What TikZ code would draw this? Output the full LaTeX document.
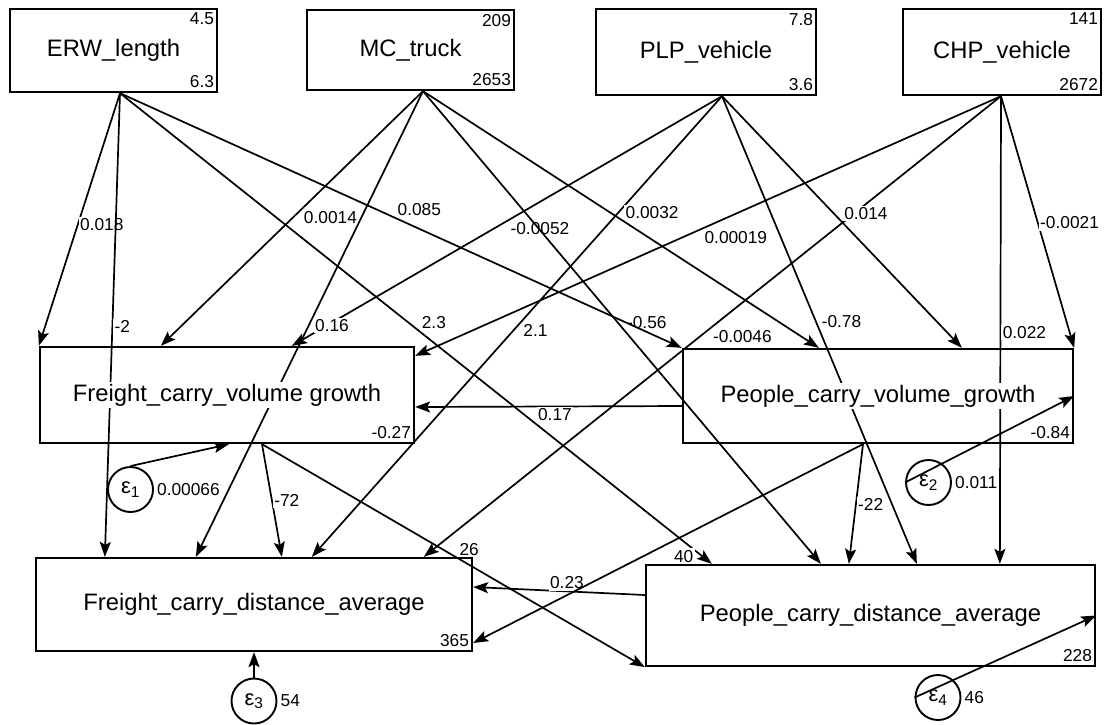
\documentclass[tikz,border=0pt]{standalone}
\usepackage{fontspec}
\setmainfont{Liberation Sans}
\usetikzlibrary{arrows.meta,positioning}

\begin{document}
\begin{tikzpicture}[x=1pt,y=-1pt]
\tikzstyle{box}=[rectangle, draw, line width=2.3pt, inner sep=0pt]
\tikzstyle{txt}=[fill=white, inner sep=2pt, font=\fontsize{23.8}{28}\selectfont]
\tikzstyle{num}=[inner xsep=4pt, inner ysep=5pt, font=\fontsize{17.3}{20}\selectfont]
\tikzstyle{lbl}=[fill=white, inner sep=1.5pt, font=\fontsize{17.3}{20}\selectfont]
\tikzstyle{err}=[circle, draw, line width=1.9pt, minimum size=45pt, inner sep=0pt, font=\fontsize{22}{26}\selectfont]
\tikzstyle{pth}=[line width=1.7pt, -{Stealth[length=15pt, width=11pt, inset=3pt]}]

\useasboundingbox (0,0) rectangle (1105,724);

% exogenous boxes
\node[box, minimum width=207pt, minimum height=83pt] (ERW) at (113.5,50.5) {};
\node[box, minimum width=207pt, minimum height=80pt] (MC) at (410.5,50) {};
\node[box, minimum width=220pt, minimum height=86pt] (PLP) at (706,52) {};
\node[box, minimum width=198pt, minimum height=86pt] (CHP) at (1002,52) {};
% endogenous boxes
\node[box, minimum width=374pt, minimum height=96pt] (FV) at (227,395) {};
\node[box, minimum width=390pt, minimum height=94pt] (PV) at (878,396) {};
\node[box, minimum width=436pt, minimum height=93pt] (FD) at (254,604.5) {};
\node[box, minimum width=449pt, minimum height=101pt] (PD) at (870.5,615.5) {};

% means and variances
\node[num, anchor=north east] (ERWm) at (ERW.north east) {4.5};
\node[num, anchor=south east] (ERWv) at (ERW.south east) {6.3};
\node[num, anchor=north east] (MCm) at (MC.north east) {209};
\node[num, anchor=south east] (MCv) at (MC.south east) {2653};
\node[num, anchor=north east] (PLPm) at (PLP.north east) {7.8};
\node[num, anchor=south east] (PLPv) at (PLP.south east) {3.6};
\node[num, anchor=north east] (CHPm) at (CHP.north east) {141};
\node[num, anchor=south east] (CHPv) at (CHP.south east) {2672};
\node[num, anchor=south east] (FVm) at (FV.south east) {-0.27};
\node[num, anchor=south east] (PVm) at (PV.south east) {-0.84};
\node[num, anchor=south east] (FDm) at (FD.south east) {365};
\node[num, anchor=south east] (PDm) at (PD.south east) {228};

% ports
\coordinate (ERWo) at ([xshift=6.5pt]ERW.south);
\coordinate (MCo) at ([xshift=12.5pt]MC.south);
\coordinate (PLPo) at ([xshift=16pt]PLP.south);
\coordinate (CHPo) at ([xshift=-1pt]CHP.south);
\coordinate (FVo) at ([xshift=35pt]FV.south);
\coordinate (PVo) at ([xshift=-15pt]PV.south);

\coordinate (FVa) at (FV.north west);
\coordinate (FVb) at ([xshift=122pt]FV.north west);
\coordinate (FVc) at ([xshift=253pt]FV.north west);
\coordinate (FVd) at ([yshift=-10pt]FV.north east);
\coordinate (FVe) at ([yshift=-12pt]FV.east);
\coordinate (FVf) at ([xshift=2pt]FV.south);

\coordinate (PVa) at (PV.north west);
\coordinate (PVb) at ([xshift=137pt]PV.north west);
\coordinate (PVc) at ([xshift=280pt]PV.north west);
\coordinate (PVd) at (PV.north east);
\coordinate (PVe) at ([yshift=-10pt]PV.west);

\coordinate (FDa) at ([xshift=70pt]FD.north west);
\coordinate (FDb) at ([xshift=161pt]FD.north west);
\coordinate (FDc) at ([xshift=247pt]FD.north west);
\coordinate (FDd) at ([xshift=277pt]FD.north west);
\coordinate (FDe) at ([xshift=389pt]FD.north west);
\coordinate (FDf) at ([yshift=17.5pt]FD.east);
\coordinate (FDg) at ([yshift=-38.5pt]FD.east);

\coordinate (PDa) at ([xshift=67pt]PD.north west);
\coordinate (PDb) at ([xshift=176pt]PD.north west);
\coordinate (PDc) at ([xshift=204pt]PD.north west);
\coordinate (PDd) at ([xshift=272pt]PD.north west);
\coordinate (PDe) at ([xshift=355pt]PD.north west);
\coordinate (PDf) at ([yshift=20.5pt]PD.west);
\coordinate (PDg) at (PD.south west);

% paths
\foreach \i/\j/\k/\p/\a in {CHPo/FVd/0.00019/0.51/north west, CHPo/FDe/-0.0046/0.503/north west,
    CHPo/PVd/-0.0021/0.504/west, CHPo/PDe/0.022/0.506/west,
    PLPo/FVc/-0.0052/0.497/north west, PLPo/FDd/2.1/0.49/north west,
    PLPo/PVc/0.014/0.5/south west, PLPo/PDd/-0.78/0.5/south west,
    MCo/FVb/0.0014/0.463/north west, MCo/FDb/0.16/0.485/north west,
    MCo/PVb/0.0032/0.506/south west, MCo/PDb/-0.56/0.507/south west,
    ERWo/FVa/0.018/0.52/west, ERWo/FDa/-2/0.503/west,
    ERWo/PVa/0.085/0.49/south west, ERWo/PDa/2.3/0.506/south west,
    PVe/FVe/0.17/0.476/north, FVo/FDc/-72/0.5/west, FVo/PDg/26/0.51/south west,
    PVo/PDc/-22/0.504/west, PDf/FDf/0.23/0.454/south}{\draw[pth] (\i) -- node[lbl, pos=\p, anchor=\a]{\k} (\j);}
\draw[pth] (PVo) -- node[lbl, pos=0.46, below=12pt]{40} (FDg);

% errors
\node[err] (e1) at (130.5,489.5) {ε\textsubscript{1}};
\node[err] (e2) at (928.5,482.5) {ε\textsubscript{2}};
\node[err] (e3) at (254,701) {ε\textsubscript{3}};
\node[err] (e4) at (938,697.5) {ε\textsubscript{4}};
\node[num, anchor=west, inner xsep=3pt] (e1v) at (e1.east) {0.00066};
\node[num, anchor=west, inner xsep=3pt] (e2v) at (e2.east) {0.011};
\node[num, anchor=west, inner xsep=3pt] (e3v) at (e3.east) {54};
\node[num, anchor=west, inner xsep=3pt] (e4v) at (e4.east) {46};
\draw[pth] (e1.north) -- (FVf);
\draw[pth] (e2.west) -- (PV.east);
\draw[pth] (e3.north) -- (FD.south);
\draw[pth] (e4.west) -- (PD.east);

% variable names
\node[txt] (ERWt) at (ERW) {ERW\_length};
\node[txt] (MCt) at (MC) {MC\_truck};
\node[txt] (PLPt) at (PLP) {PLP\_vehicle};
\node[txt] (CHPt) at (CHP) {CHP\_vehicle};
\node[txt] (FVt) at (FV) {Freight\_carry\_volume growth};
\node[txt] (PVt) at (PV) {People\_carry\_volume\_growth};
\node[txt] (FDt) at (FD) {Freight\_carry\_distance\_average};
\node[txt] (PDt) at (PD) {People\_carry\_distance\_average};

\end{tikzpicture}
\end{document}
